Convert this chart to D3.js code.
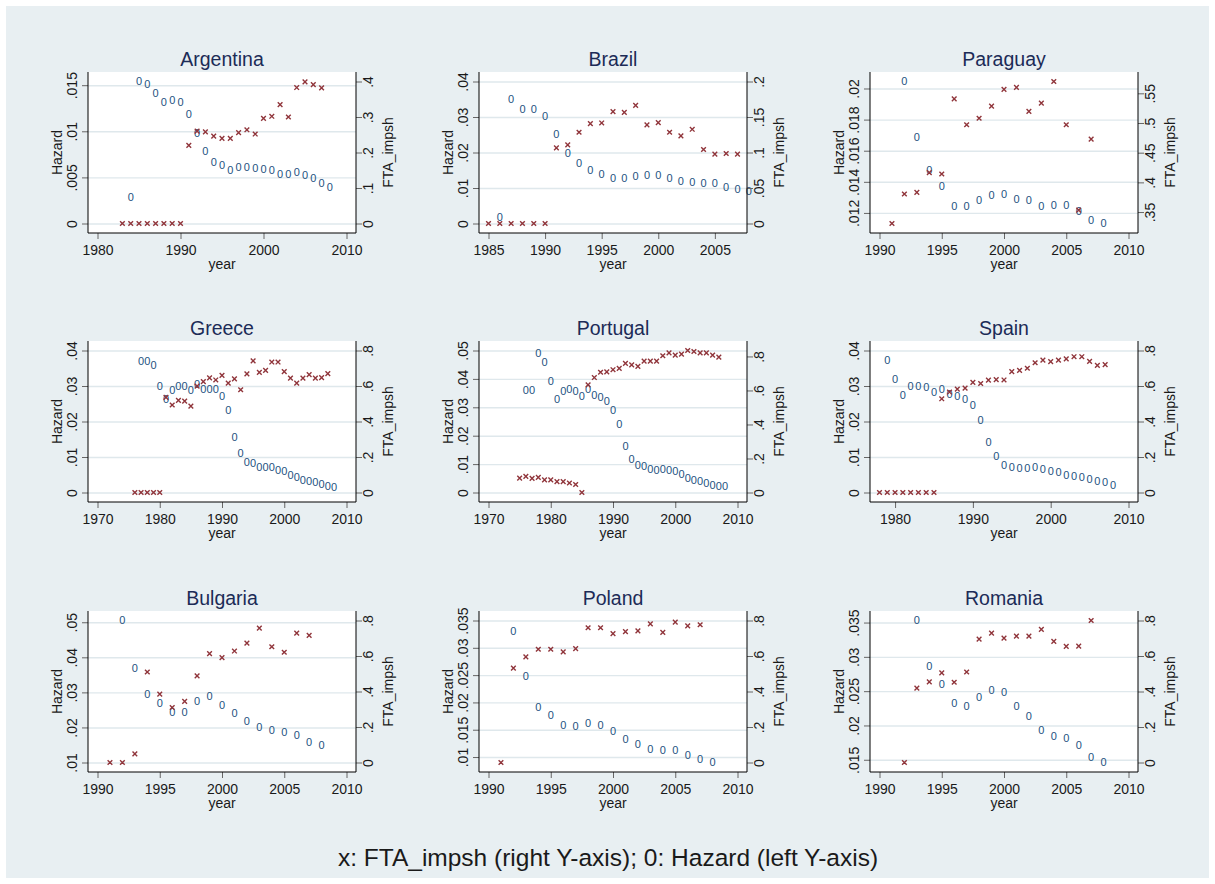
<!DOCTYPE html>
<html>
<head>
<meta charset="utf-8">
<script src="https://cdn.jsdelivr.net/npm/d3@7"></script>
<style>
  body { margin: 0; background: #fff; }
  svg { display: block; font-family: "Liberation Sans", Arial, sans-serif; }
</style>
</head>
<body>
<svg id="chart" width="1215" height="884"></svg>
<script>
// ---- data ----
const countries = ["Argentina", "Brazil", "Paraguay", "Greece", "Portugal", "Spain", "Bulgaria", "Poland", "Romania"];

// Argentina
const argHazYears = [1984,1985,1986,1987,1988,1989,1990,1991,1992,1993,1994,1995,1996,1997,1998,1999,2000,2001,2002,2003,2004,2005,2006,2007,2008];
const argHazard = [.0029,.0154,.0151,.0141,.0132,.0134,.0132,.0119,.0098,.0079,.0067,.0063,.0058,.0061,.0061,.0060,.0059,.0058,.0054,.0054,.0056,.0053,.0049,.0044,.0039];
const argFtaYears = [1983,1984,1985,1986,1987,1988,1989,1990,1991,1992,1993,1994,1995,1996,1997,1998,1999,2000,2001,2002,2003,2004,2005,2006,2007];
const argFta = [0,0,0,0,0,0,0,0,.22,.26,.258,.246,.24,.24,.256,.264,.252,.296,.302,.335,.30,.383,.399,.391,.382];
const argXTicks = [1980,1990,2000,2010];
const argLeftTicks = [0,.005,.01,.015];
const argRightTicks = [0,.1,.2,.3,.4];

// Brazil
const braHazYears = [1986,1987,1988,1989,1990,1991,1992,1993,1994,1995,1996,1997,1998,1999,2000,2001,2002,2003,2004,2005,2006,2007,2008];
const braHazard = [.0018,.0351,.0323,.0322,.0304,.0253,.0199,.0169,.015,.0139,.0128,.0128,.0133,.0136,.0136,.0128,.0119,.0116,.0113,.0113,.0103,.0097,.0091];
const braFtaYears = [1985,1986,1987,1988,1989,1990,1991,1992,1993,1994,1995,1996,1997,1998,1999,2000,2001,2002,2003,2004,2005,2006,2007];
const braFta = [0,0,0,0,0,0,.1065,.1107,.1285,.1407,.1416,.1575,.1565,.1664,.1388,.142,.1285,.1234,.1327,.1042,.0977,.0986,.0977];
const braXTicks = [1985,1990,1995,2000,2005];
const braLeftTicks = [0,.01,.02,.03,.04];
const braRightTicks = [0,.05,.1,.15,.2];

// Paraguay
const parHazYears = [1992,1993,1994,1995,1996,1997,1998,1999,2000,2001,2002,2003,2004,2005,2006,2007,2008];
const parHazard = [.02045,.0169,.01474,.0137,.01247,.01243,.01285,.01313,.01323,.0129,.01285,.01243,.0125,.0125,.01215,.01157,.01132];
const parFtaYears = [1991,1992,1993,1994,1995,1996,1997,1998,1999,2000,2001,2002,2003,2004,2005,2006,2007];
const parFta = [.3307,.3804,.3831,.4163,.4141,.5406,.497,.508,.5284,.5566,.5599,.5196,.5334,.5699,.497,.3533,.4727];
const parXTicks = [1990,1995,2000,2005,2010];
const parLeftTicks = [.012,.014,.016,.018,.02];
const parRightTicks = [.35,.4,.45,.5,.55];

// Greece
const greHazYears = [1977,1978,1979,1980,1981,1982,1983,1984,1985,1986,1987,1988,1989,1990,1991,1992,1993,1994,1995,1996,1997,1998,1999,2000,2001,2002,2003,2004,2005,2006,2007,2008];
const greHazard = [.037,.037,.0359,.0299,.0264,.0289,.030,.030,.0289,.0305,.0291,.0291,.0291,.0273,.0232,.0156,.0111,.0087,.0082,.0071,.0071,.0071,.0064,.006,.0049,.0043,.0036,.0033,.0029,.0023,.0018,.0014];
const greFtaYears = [1976,1977,1978,1979,1980,1981,1982,1983,1984,1985,1986,1987,1988,1989,1990,1991,1992,1993,1994,1995,1996,1997,1998,1999,2000,2001,2002,2003,2004,2005,2006,2007];
const greFta = [0,0,0,0,0,.536,.493,.519,.515,.487,.599,.625,.646,.634,.660,.616,.640,.579,.668,.742,.677,.688,.735,.735,.681,.644,.616,.644,.664,.644,.647,.670];
const greXTicks = [1970,1980,1990,2000,2010];
const greLeftTicks = [0,.01,.02,.03,.04];
const greRightTicks = [0,.2,.4,.6,.8];

// Portugal
const porHazYears = [1976,1977,1978,1979,1980,1981,1982,1983,1984,1985,1986,1987,1988,1989,1990,1991,1992,1993,1994,1995,1996,1997,1998,1999,2000,2001,2002,2003,2004,2005,2006,2007,2008];
const porHazard = [.0362,.0362,.049,.0459,.0391,.0329,.0356,.0364,.0356,.0338,.0364,.0343,.0336,.0323,.0292,.024,.0163,.0117,.0097,.0094,.0083,.008,.0083,.008,.0074,.0065,.0051,.0045,.004,.0034,.0028,.0022,.0021];
const porFtaYears = [1975,1976,1977,1978,1979,1980,1981,1982,1983,1984,1985,1986,1987,1988,1989,1990,1991,1992,1993,1994,1995,1996,1997,1998,1999,2000,2001,2002,2003,2004,2005,2006,2007];
const porFta = [.085,.095,.083,.089,.074,.074,.064,.064,.056,.047,0,.633,.676,.707,.709,.722,.730,.759,.750,.742,.773,.773,.773,.804,.821,.808,.814,.835,.829,.821,.821,.808,.796];
const porXTicks = [1970,1980,1990,2000,2010];
const porLeftTicks = [0,.01,.02,.03,.04,.05];
const porRightTicks = [0,.2,.4,.6,.8];

// Spain
const spaHazYears = [1979,1980,1981,1982,1983,1984,1985,1986,1987,1988,1989,1990,1991,1992,1993,1994,1995,1996,1997,1998,1999,2000,2001,2002,2003,2004,2005,2006,2007,2008];
const spaHazard = [.0373,.032,.0275,.0299,.030,.0297,.0282,.0292,.0277,.0271,.0264,.0246,.0204,.0142,.0103,.0078,.0071,.0068,.0068,.0071,.0066,.006,.0057,.005,.0046,.0043,.0038,.0033,.0029,.002];
const spaFtaYears = [1978,1979,1980,1981,1982,1983,1984,1985,1986,1987,1988,1989,1990,1991,1992,1993,1994,1995,1996,1997,1998,1999,2000,2001,2002,2003,2004,2005,2006,2007];
const spaFta = [0,0,0,0,0,0,0,0,.528,.566,.582,.588,.620,.614,.633,.636,.634,.681,.688,.700,.731,.746,.737,.746,.753,.765,.765,.739,.716,.72];
const spaXTicks = [1980,1990,2000,2010];
const spaLeftTicks = [0,.01,.02,.03,.04];
const spaRightTicks = [0,.2,.4,.6,.8];

// Bulgaria
const bulHazYears = [1992,1993,1994,1995,1996,1997,1998,1999,2000,2001,2002,2003,2004,2005,2006,2007,2008];
const bulHazard = [.0505,.0369,.0296,.0269,.0244,.0244,.0275,.0289,.0265,.0242,.0219,.0201,.0193,.0186,.0179,.0159,.0151];
const bulFtaYears = [1991,1992,1993,1994,1995,1996,1997,1998,1999,2000,2001,2002,2003,2004,2005,2006,2007];
const bulFta = [0,0,.049,.510,.385,.310,.344,.488,.613,.591,.628,.673,.757,.652,.621,.729,.716];
const bulXTicks = [1990,1995,2000,2005,2010];
const bulLeftTicks = [.01,.02,.03,.04,.05];
const bulRightTicks = [0,.2,.4,.6,.8];

// Poland
const polHazYears = [1992,1993,1994,1995,1996,1997,1998,1999,2000,2001,2002,2003,2004,2005,2006,2007,2008];
const polHazard = [.033,.0248,.0192,.0177,.0158,.0157,.0162,.0158,.0148,.0133,.0123,.0114,.0112,.0112,.0104,.0096,.009];
const polFtaYears = [1991,1992,1993,1994,1995,1996,1997,1998,1999,2000,2001,2002,2003,2004,2005,2006,2007];
const polFta = [0,.532,.595,.638,.638,.623,.642,.759,.759,.726,.737,.742,.781,.733,.791,.770,.776];
const polXTicks = [1990,1995,2000,2005,2010];
const polLeftTicks = [.01,.015,.02,.025,.03,.035];
const polRightTicks = [0,.2,.4,.6,.8];

// Romania
const romHazYears = [1993,1994,1995,1996,1997,1998,1999,2000,2001,2002,2003,2004,2005,2006,2007,2008];
const romHazard = [.0353,.0286,.026,.0232,.0228,.0241,.0252,.0249,.0228,.0213,.0193,.0185,.0182,.0171,.0154,.0146];
const romFtaYears = [1992,1993,1994,1995,1996,1997,1998,1999,2000,2001,2002,2003,2004,2005,2006,2007];
const romFta = [0,.419,.454,.505,.452,.510,.695,.729,.701,.712,.712,.750,.682,.654,.656,.80];
const romXTicks = [1990,1995,2000,2005,2010];
const romLeftTicks = [.015,.02,.025,.03,.035];
const romRightTicks = [0,.2,.4,.6,.8];

const footnote = "x: FTA_impsh (right Y-axis); 0: Hazard (left Y-axis)";

// ---- table for the panels ----
const panels = [
  [argHazYears, argHazard, argFtaYears, argFta, argXTicks, argLeftTicks, argRightTicks],
  [braHazYears, braHazard, braFtaYears, braFta, braXTicks, braLeftTicks, braRightTicks],
  [parHazYears, parHazard, parFtaYears, parFta, parXTicks, parLeftTicks, parRightTicks],
  [greHazYears, greHazard, greFtaYears, greFta, greXTicks, greLeftTicks, greRightTicks],
  [porHazYears, porHazard, porFtaYears, porFta, porXTicks, porLeftTicks, porRightTicks],
  [spaHazYears, spaHazard, spaFtaYears, spaFta, spaXTicks, spaLeftTicks, spaRightTicks],
  [bulHazYears, bulHazard, bulFtaYears, bulFta, bulXTicks, bulLeftTicks, bulRightTicks],
  [polHazYears, polHazard, polFtaYears, polFta, polXTicks, polLeftTicks, polRightTicks],
  [romHazYears, romHazard, romFtaYears, romFta, romXTicks, romLeftTicks, romRightTicks]
].map((a, i) => ({
  name: countries[i], hazYears: a[0], hazard: a[1], ftaYears: a[2], fta: a[3],
  xTicks: a[4], leftTicks: a[5], rightTicks: a[6]
}));

// ---- drawing ----
const svg = d3.select("#chart");
svg.append("rect")
  .attr("x", 6).attr("y", 6).attr("width", 1203).attr("height", 872)
  .attr("fill", "#e8eff2");

const W = 268, H = 161, pad = 9.5;
const colX = [88, 479, 870];
const rowY = [72, 341, 611];
const fmt = v => v === 0 ? "0" : String(v).replace(/^0\./, ".");
const tickColor = "#666";
const textColor = "#1a1a1a";

panels.forEach((p, i) => {
  const g = svg.append("g")
    .attr("transform", `translate(${colX[i % 3]},${rowY[Math.floor(i / 3)]})`);

  const x = d3.scaleLinear()
    .domain(d3.extent([...p.ftaYears, ...p.xTicks]))
    .range([pad, W - pad]);
  const yL = d3.scaleLinear()
    .domain(d3.extent([...p.hazard, ...p.leftTicks]))
    .range([H - pad, pad]);
  const yR = d3.scaleLinear()
    .domain(d3.extent([...p.fta, ...p.rightTicks]))
    .range([H - pad, pad]);

  g.append("rect").attr("width", W).attr("height", H).attr("fill", "#fff");

  // gridlines from the left axis
  g.append("g")
    .call(d3.axisLeft(yL).tickValues(p.leftTicks).tickSize(-W).tickFormat(""))
    .call(a => a.select(".domain").remove())
    .selectAll("line").attr("stroke", "#dfe8ec").attr("stroke-width", 1.4);

  // hazard: "0" markers
  g.selectAll(".haz")
    .data(p.hazYears.map((yr, k) => [yr, p.hazard[k]]))
    .join("text")
    .attr("x", d => x(d[0]))
    .attr("y", d => yL(d[1]))
    .attr("dy", "0.36em")
    .attr("text-anchor", "middle")
    .attr("font-size", 11)
    .attr("fill", "#24527f")
    .text("0");

  // FTA_impsh: "x" markers
  g.selectAll(".fta")
    .data(p.ftaYears.map((yr, k) => [yr, p.fta[k]]))
    .join("path")
    .attr("transform", d => `translate(${x(d[0])},${yR(d[1])})`)
    .attr("d", d3.symbol(d3.symbolX, 16))
    .attr("fill", "none")
    .attr("stroke", "#90353b")
    .attr("stroke-width", 1.4);

  // left axis
  const ax = g.append("g")
    .call(d3.axisLeft(yL).tickValues(p.leftTicks).tickSize(6).tickFormat(fmt));
  ax.select(".domain").remove();
  ax.selectAll("line").attr("stroke", tickColor);
  ax.selectAll("text")
    .attr("transform", "rotate(-90)")
    .attr("x", 0).attr("y", -11).attr("dy", 0)
    .attr("text-anchor", "middle")
    .attr("font-size", 14).attr("fill", textColor);

  // right axis
  const ar = g.append("g").attr("transform", `translate(${W},0)`)
    .call(d3.axisRight(yR).tickValues(p.rightTicks).tickSize(6).tickFormat(fmt));
  ar.select(".domain").remove();
  ar.selectAll("line").attr("stroke", tickColor);
  ar.selectAll("text")
    .attr("transform", "rotate(-90)")
    .attr("x", 0).attr("y", 17).attr("dy", 0)
    .attr("text-anchor", "middle")
    .attr("font-size", 14).attr("fill", textColor);

  // bottom axis
  const ab = g.append("g").attr("transform", `translate(0,${H})`)
    .call(d3.axisBottom(x).tickValues(p.xTicks).tickSize(6).tickFormat(d3.format("d")));
  ab.select(".domain").remove();
  ab.selectAll("line").attr("stroke", tickColor);
  ab.selectAll("text")
    .attr("y", 12.5)
    .attr("font-size", 14).attr("fill", textColor);

  // axis lines round the plot region
  g.append("path")
    .attr("d", `M0,0V${H}H${W}V0`)
    .attr("fill", "none").attr("stroke", "#000").attr("stroke-width", 1);

  // titles
  g.append("text")
    .attr("x", W / 2).attr("y", -6)
    .attr("text-anchor", "middle")
    .attr("font-size", 19.5).attr("fill", "#1c2b57")
    .text(p.name);
  g.append("text")
    .attr("transform", `translate(-26,${H / 2}) rotate(-90)`)
    .attr("text-anchor", "middle")
    .attr("font-size", 14).attr("fill", textColor)
    .text("Hazard");
  g.append("text")
    .attr("transform", `translate(${W + 37},${H / 2}) rotate(-90)`)
    .attr("text-anchor", "middle")
    .attr("font-size", 14).attr("fill", textColor)
    .text("FTA_impsh");
  g.append("text")
    .attr("x", W / 2).attr("y", H + 36)
    .attr("text-anchor", "middle")
    .attr("font-size", 14).attr("fill", textColor)
    .text("year");
});

svg.append("text")
  .attr("x", 608).attr("y", 866)
  .attr("text-anchor", "middle")
  .attr("font-size", 24.5).attr("fill", textColor)
  .text(footnote);
</script>
</body>
</html>
